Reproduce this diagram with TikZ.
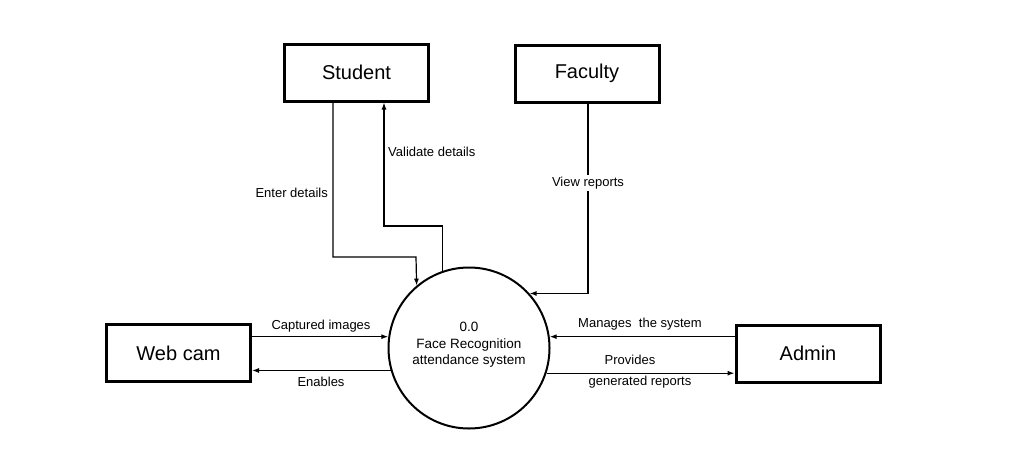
\documentclass[tikz,border=0pt]{standalone}
\usepackage{fontspec}
\setmainfont{Liberation Sans}
\usetikzlibrary{arrows.meta}
\begin{document}
\begin{tikzpicture}[x=1pt,y=-1pt,
  ent/.style={draw,line width=3pt,minimum width=144pt,minimum height=57pt,inner sep=0pt,font=\fontsize{20}{24}\selectfont},
  flow/.style={line width=1.2pt,-{Latex[length=7pt,width=5pt]}},
  lbl/.style={font=\fontsize{13}{15}\selectfont,inner sep=1pt}]
\useasboundingbox[fill=white] (0,0) rectangle (1017,466);
\node[ent] (stud) at (356.5,72.5) {Student};
\node[ent] (fac) at (587,73.5) {Faculty};
\node[ent] (cam) at (178.5,353) {Web cam};
\node[ent] (adm) at (808,353.5) {Admin};
\node[draw,circle,line width=2pt,minimum size=161pt,inner sep=0pt] (proc) at (469,348) {};
\node[align=center,font=\fontsize{13.5}{16.5}\selectfont] (ptxt) at (469,345) {0.0\\Face Recognition\\attendance system};
% connectors
\draw[flow] ([xshift=-23.5pt]stud.south) |- (416,257) -- (proc.130.9);
\draw[flow] (proc.109.5) |- (384,226) -- ([xshift=27.5pt]stud.south);
\draw[flow] ([xshift=1pt]fac.south) |- (proc.42.8);
\draw[flow] (cam.east |- proc.172.9) -- (proc.172.9);
\draw[flow] (proc.196.5) -- (cam.east |- proc.196.5);
\draw[flow] (adm.west |- proc.8.5) -- (proc.8.5);
\draw[flow] (proc.-18.7) -- (adm.west |- proc.-18.7);
% labels
\node[lbl,anchor=east] (l1) at (329,193) {Enter details};
\node[lbl,anchor=west] (l2) at (387,152) {Validate details};
\node[lbl,fill=white,inner sep=2pt] (l3) at (588,183) {View reports};
\node[lbl] (l4) at (321,326) {Captured images};
\node[lbl] (l5) at (321,382) {Enables};
\node[lbl] (l6) at (640,324) {Manages\ \ the system};
\node[lbl] (l7) at (630,360) {Provides};
\node[lbl] (l8) at (640,382) {generated reports};
\end{tikzpicture}
\end{document}
